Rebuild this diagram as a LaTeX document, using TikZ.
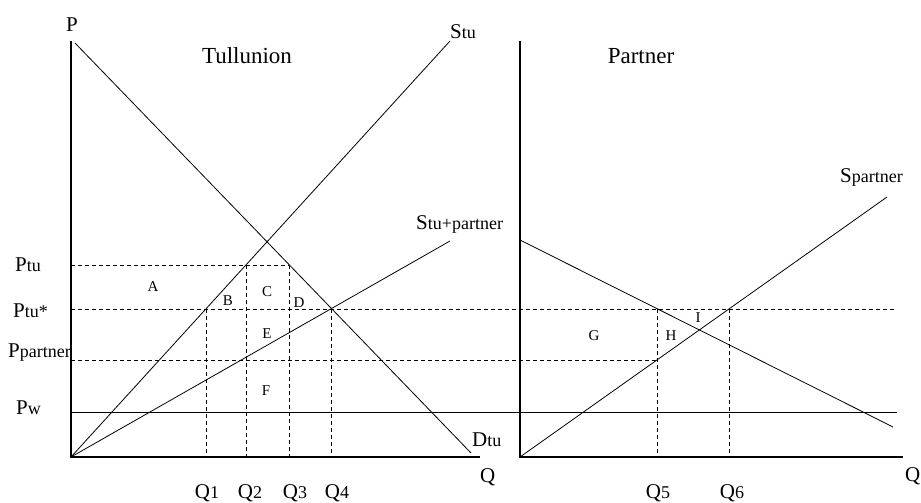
\documentclass[tikz,border=0pt]{standalone}
\usepackage{fontspec}
\setmainfont{Liberation Serif}
\usepackage{tikz}
\usetikzlibrary{calc, positioning}

\newcommand{\sm}[1]{{\fontsize{18}{18}\selectfont #1}}
\tikzset{
    axis/.style={line width=1.2pt},
    curve/.style={line width=0.8pt},
    guide/.style={line width=0.8pt, dash pattern=on 4pt off 3pt},
    lab/.style={inner sep=0pt, font=\fontsize{21}{21}\selectfont},
    area/.style={inner sep=0pt, font=\fontsize{15}{15}\selectfont},
    title/.style={inner sep=0pt, font=\fontsize{23}{23}\selectfont}
}

\begin{document}
\begin{tikzpicture}[x=1pt, y=1pt]
    \useasboundingbox (0,0) rectangle (921,503);

    % Điểm mốc: Tullunion
    \coordinate (O1) at (71,46);
    \coordinate (P1) at (71,462);
    \coordinate (X1) at (480,46);
    \coordinate (Dtop) at (75,460);
    \coordinate (Dbot) at (471,50);
    \coordinate (Stop) at (450,462);
    \coordinate (Sjoin) at (450,262);

    % Điểm mốc: Partner
    \coordinate (O2) at (520,46);
    \coordinate (P2) at (520,462);
    \coordinate (X2) at (903,46);
    \coordinate (DPtop) at (520,263);
    \coordinate (DPbot) at (893,76);
    \coordinate (SPtop) at (887,306);

    % Mức giá và lượng
    \coordinate (ptu) at (71,238);
    \coordinate (ptus) at (71,194);
    \coordinate (ppart) at (71,143);
    \coordinate (pw) at (71,91);
    \coordinate (q1) at (206,194);
    \coordinate (q2) at (246,238);
    \coordinate (q3) at (289,238);
    \coordinate (q4) at (331,194);
    \coordinate (q5) at (657,194);
    \coordinate (q6) at (729,194);
    \coordinate (ptusend) at (896,194);
    \coordinate (pwend) at (897,91);

    % Hệ trục
    \draw[axis] (P1) -- (O1) -- (X1);
    \draw[axis] (P2) -- (O2) -- (X2);

    % Đường gióng
    \draw[guide] (ptu) -- (q3);
    \draw[guide] (ptus) -- (ptusend);
    \draw[guide] (ppart) -- (q5 |- ppart);
    \foreach \q in {q1,q2,q3,q4,q5,q6} {
        \draw[guide] (\q) -- (\q |- O1);
    }
    \draw[curve] (pw) -- (pwend);

    % Cung và cầu
    \draw[curve] (Dtop) -- (Dbot);
    \draw[curve] (O1) -- (Stop);
    \draw[curve] (O1) -- (Sjoin);
    \draw[curve] (DPtop) -- (DPbot);
    \draw[curve] (O2) -- (SPtop);

    % Nhãn
    \node[lab, anchor=base] (lP) at (72,471) {P};
    \node[title, anchor=base] (lTu) at (247,439) {Tullunion};
    \node[title, anchor=base] (lPa) at (641,439) {Partner};
    \node[lab, anchor=base west] (lStu) at (450,464) {S\sm{tu}};
    \node[lab, anchor=base west] (lSj) at (416,273) {S\sm{tu+partner}};
    \node[lab, anchor=base west] (lSp) at (840,320) {S\sm{partner}};
    \node[lab, anchor=base west] (lDtu) at (472,56) {D\sm{tu}};
    \node[lab, anchor=base west] (lQa) at (480,20) {Q};
    \node[lab, anchor=base west] (lQb) at (905,21) {Q};

    \node[lab, anchor=base west] (lPtu) at (15,231) {P\sm{tu}};
    \node[lab, anchor=base west] (lPtus) at (13,185) {P\sm{tu*}};
    \node[lab, anchor=base west] (lPpa) at (8,145) {P\sm{partner}};
    \node[lab, anchor=base west] (lPw) at (16,88) {P\sm{w}};

    \foreach \n/\x in {1/207, 2/250, 3/295, 4/337, 5/658, 6/732} {
        \node[lab, anchor=base] (lQ\n) at (\x,4) {Q\sm{\n}};
    }

    % Vùng diện tích
    \foreach \t/\x/\y in {A/153/216, B/228/202, C/267/211, D/299/200, E/267/169,
                          F/266/112, G/594/167, H/671/167, I/698/185} {
        \node[area] (a\t) at (\x,\y) {\t};
    }
\end{tikzpicture}
\end{document}
